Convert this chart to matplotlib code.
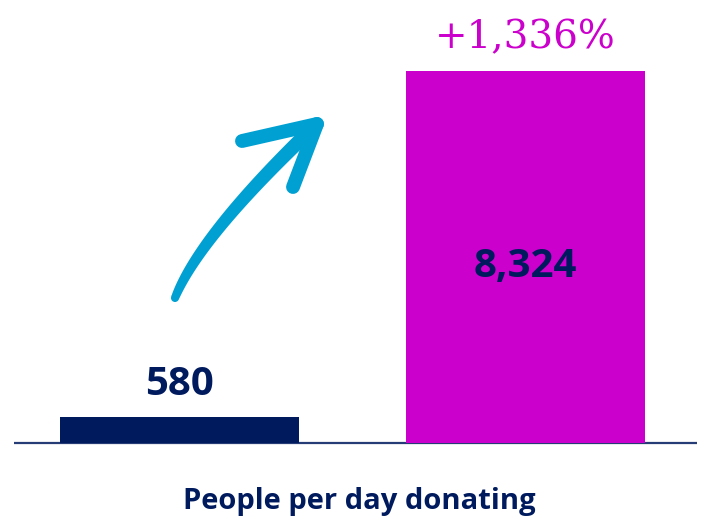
import numpy as np
import matplotlib
matplotlib.use("Agg")
import matplotlib.pyplot as plt
from matplotlib.patches import Polygon, Circle

categories = ["Before", "After"]
values = [580, 8324]
value_labels = ["580", "8,324"]
change_label = "+1,336%"
xlabel = "People per day donating"

NAVY = "#001a5e"
MAGENTA = "#cc00cc"
BLUE = "#00a0d2"

W, H = 706, 517
fig = plt.figure(figsize=(W / 100, H / 100), dpi=100)
ax = fig.add_axes([0, 0, 1, 1])

# pixel mapping: bar centres at 179.5 and 525 px, baseline at 443 px from top
px_per_x = 345.5
x0_px = 179.5
ax.set_xlim(-x0_px / px_per_x, (W - x0_px) / px_per_x)
u_per_px = values[1] / 372.0
ax.set_ylim(-(H - 443) * u_per_px, 443 * u_per_px)
ax.axis("off")

xs = np.arange(len(values))
ax.bar(xs, values, width=239 / px_per_x, color=[NAVY, MAGENTA], zorder=3)
ax.plot([(14 - x0_px) / px_per_x, (697 - x0_px) / px_per_x], [0, 0],
        color=NAVY, lw=1.6, alpha=0.85, zorder=2, solid_capstyle="butt")

# labels
ax.annotate(value_labels[0], (xs[0], values[0]), xytext=(0, 22 * 0.72),
            textcoords="offset points", ha="center", va="baseline",
            fontsize=29, fontweight="bold", family="Open Sans", color=NAVY)
ax.annotate(value_labels[1], (xs[1], values[1] / 2), xytext=(0, -20 * 0.72),
            textcoords="offset points", ha="center", va="baseline",
            fontsize=29, fontweight="bold", family="Open Sans", color=NAVY)
ax.annotate(change_label, (xs[1], values[1]), xytext=(0, 23 * 0.72),
            textcoords="offset points", ha="center", va="baseline",
            fontsize=28, family="DejaVu Serif", color=MAGENTA)
fig.text(359 / W, 1 - 509 / H, xlabel, ha="center", va="baseline",
         fontsize=21, fontweight="bold", family="Open Sans", color=NAVY)

# decorative arrow in pixel coordinates
ov = fig.add_axes([0, 0, 1, 1])
ov.set_xlim(0, W)
ov.set_ylim(H, 0)
ov.axis("off")
ov.patch.set_alpha(0)
P0 = np.array([175.0, 298.0])
P1 = np.array([200.0, 235.0])
P2 = np.array([317.0, 124.0])
t = np.linspace(0, 1, 100)[:, None]
pts = (1 - t) ** 2 * P0 + 2 * (1 - t) * t * P1 + t ** 2 * P2
d = 2 * (1 - t) * (P1 - P0) + 2 * t * (P2 - P1)
d = d / np.linalg.norm(d, axis=1, keepdims=True)
n = np.column_stack([-d[:, 1], d[:, 0]])
w = (8.0 + 6.5 * t[:, 0] ** 0.7) / 2
left = pts + n * w[:, None]
right = pts - n * w[:, None]
ov.add_patch(Polygon(np.vstack([left, right[::-1]]), closed=True,
                     color=BLUE, lw=0))
ov.add_patch(Circle(P0, w[0], color=BLUE, lw=0))
for end in [(242, 141), (293, 187)]:
    ov.plot([P2[0], end[0]], [P2[1], end[1]], color=BLUE, lw=10,
            solid_capstyle="round")

fig.savefig("out.png", dpi=100)
